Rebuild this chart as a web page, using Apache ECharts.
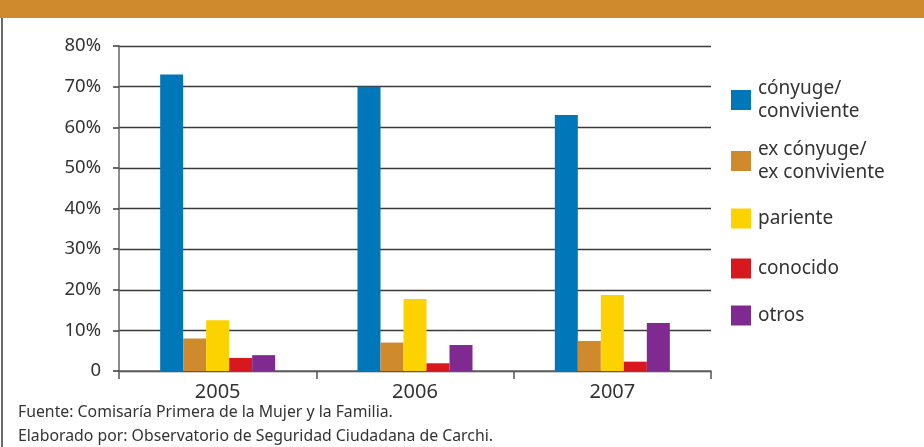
<!DOCTYPE html>
<html>
<head>
<meta charset="utf-8">
<script src="https://cdn.jsdelivr.net/npm/echarts@6/dist/echarts.min.js"></script>
<style>
  html, body { margin: 0; padding: 0; background: #fff; }
  #chart { width: 924px; height: 447px; }
</style>
</head>
<body>
<div id="chart"></div>
<script>
// datos (porcentajes)
var years = ['2005', '2006', '2007'];
var conyuge = [73, 70, 63];
var exConyuge = [8, 7, 7.4];
var pariente = [12.5, 17.7, 18.7];
var conocido = [3.2, 1.9, 2.3];
var otros = [3.9, 6.4, 11.8];
var yTicks = [0, 10, 20, 30, 40, 50, 60, 70, 80];

var seriesNames = ['cónyuge/\nconviviente', 'ex cónyuge/\nex conviviente', 'pariente', 'conocido', 'otros'];
var seriesColors = ['#0077b9', '#cf8a2d', '#fcd200', '#d7191f', '#7f2a90'];
var seriesData = [conyuge, exConyuge, pariente, conocido, otros];
var legendTops = [72, 133, 202, 252, 299];

var textColor = '#333';
var font = '"Noto Sans", "Open Sans", sans-serif';

var chart = echarts.init(document.getElementById('chart'));

var legends = seriesNames.map(function (name, i) {
    return {
        left: 726,
        top: legendTops[i],
        orient: 'vertical',
        itemWidth: 20,
        itemHeight: 20,
        itemGap: 10,
        icon: 'rect',
        selectedMode: false,
        data: [name],
        textStyle: { color: textColor, fontSize: 19, fontFamily: font, lineHeight: 23, padding: [0, 0, 0, 2] }
    };
});

var option = {
    animation: false,
    backgroundColor: '#fff',
    textStyle: { fontFamily: font },
    legend: legends,
    grid: { left: 119, right: 213, top: 46, bottom: 76, containLabel: false },
    xAxis: {
        type: 'category',
        data: years,
        axisLine: { lineStyle: { color: '#666', width: 1.5 } },
        axisTick: { show: true, length: 8, lineStyle: { color: '#555', width: 1.5 } },
        axisLabel: { color: textColor, fontSize: 20, fontFamily: font, margin: 11 }
    },
    yAxis: {
        type: 'value',
        min: 0,
        max: 80,
        interval: 10,
        axisLine: { show: true, lineStyle: { color: '#666', width: 1.5 } },
        axisTick: { show: true, length: 6, lineStyle: { color: '#3a3a3a', width: 1.5 } },
        splitLine: { show: true, lineStyle: { color: '#3a3a3a', width: 1.3 } },
        axisLabel: {
            color: textColor,
            fontSize: 18.5,
            fontFamily: font,
            margin: 18,
            formatter: function (v) { return yTicks.indexOf(v) > 0 ? v + '%' : '0'; }
        }
    },
    series: seriesNames.map(function (name, i) {
        return {
            name: name,
            type: 'bar',
            data: seriesData[i],
            barWidth: 23,
            barGap: '0%',
            itemStyle: { color: seriesColors[i] }
        };
    }),
    graphic: [
        { type: 'rect', left: 0, top: 0, shape: { width: 924, height: 18 }, style: { fill: '#cf8a2d' } },
        { type: 'rect', left: 1, top: 18, shape: { width: 2, height: 429 }, style: { fill: '#6a6a6a' } },
        { type: 'text', left: 18, top: 404, style: { text: 'Fuente: Comisaría Primera de la Mujer y la Familia.', fill: textColor, font: '15.8px ' + font } },
        { type: 'text', left: 18, top: 428, style: { text: 'Elaborado por: Observatorio de Seguridad Ciudadana de Carchi.', fill: textColor, font: '15.8px ' + font } }
    ]
};

chart.setOption(option, true);
</script>
</body>
</html>
